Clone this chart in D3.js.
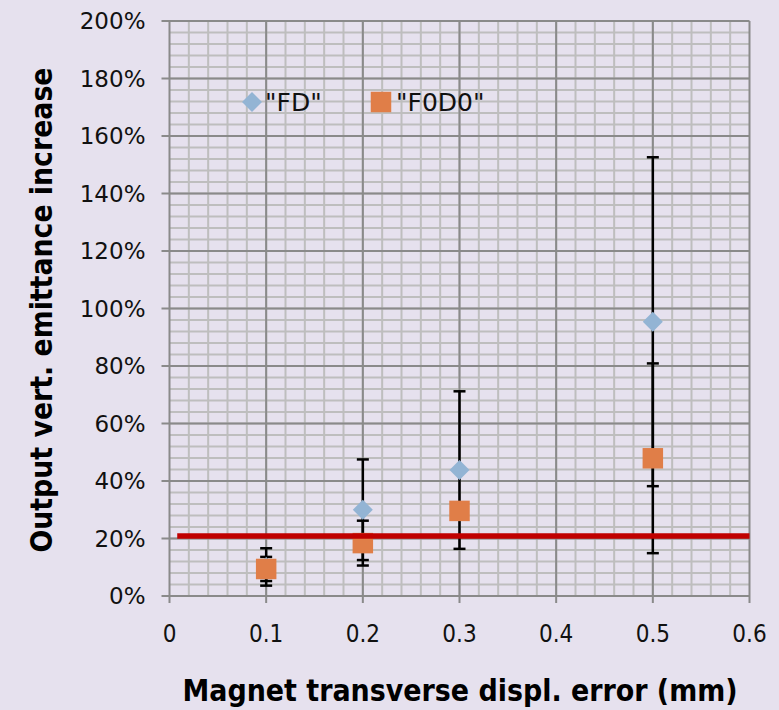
<!DOCTYPE html>
<html>
<head>
<meta charset="utf-8">
<script src="https://cdn.jsdelivr.net/npm/d3@7"></script>
<style>
    html, body { margin: 0; padding: 0; background: #e6e1ee; }
    svg { display: block; }
</style>
</head>
<body>
<script>
// Chart data.
var xValues = [0.1, 0.2, 0.3, 0.5];
var fdValues = [0.101, 0.300, 0.438, 0.954];
var fdErrors = [0.065, 0.175, 0.274, 0.572];
var fodoValues = [0.094, 0.184, 0.296, 0.479];
var fodoErrors = [0.042, 0.078, 0.030, 0.330];
var thresholdX = [0.008, 0.6];
var thresholdY = 0.209;
var xTicks = [0, 0.1, 0.2, 0.3, 0.4, 0.5, 0.6];
var yTicks = [0, 0.2, 0.4, 0.6, 0.8, 1.0, 1.2, 1.4, 1.6, 1.8, 2.0];
var seriesNames = ['"FD"', '"F0D0"'];

// Layout.
var width = 779, height = 710;
var margin = {left: 169.5, right: 29.5, top: 21, bottom: 114};
var colors = {
    back: "#e6e1ee",
    major: "#8a8a8a",
    minor: "#bebebe",
    fd: "#93b4d4",
    fodo: "#e07e48",
    red: "#c00000"
};

var x = d3.scaleLinear().domain([0, 0.6]).range([margin.left, width - margin.right]);
var y = d3.scaleLinear().domain([0, 2]).range([height - margin.bottom, margin.top]);

var svg = d3.select("body").append("svg")
        .attr("width", width)
        .attr("height", height)
        .style("background", colors.back);

// Minor grid.
var grid = svg.append("g");
grid.selectAll("line.mx")
        .data(d3.range(1, 30).map(function(i) { return i * 0.02; }))
        .enter().append("line")
        .attr("x1", function(d) { return x(d); })
        .attr("x2", function(d) { return x(d); })
        .attr("y1", y(0)).attr("y2", y(2))
        .style("stroke", colors.minor).style("stroke-width", 2);
grid.selectAll("line.my")
        .data(d3.range(1, 50).map(function(i) { return i * 0.04; }))
        .enter().append("line")
        .attr("y1", function(d) { return y(d); })
        .attr("y2", function(d) { return y(d); })
        .attr("x1", x(0)).attr("x2", x(0.6))
        .style("stroke", colors.minor).style("stroke-width", 2);

// Major grid, with the small outer ticks.
grid.selectAll("line.gx")
        .data(xTicks)
        .enter().append("line")
        .attr("x1", function(d) { return x(d); })
        .attr("x2", function(d) { return x(d); })
        .attr("y1", y(0) + 7).attr("y2", y(2))
        .style("stroke", colors.major).style("stroke-width", 2);
grid.selectAll("line.gy")
        .data(yTicks)
        .enter().append("line")
        .attr("y1", function(d) { return y(d); })
        .attr("y2", function(d) { return y(d); })
        .attr("x1", x(0) - 8).attr("x2", x(0.6))
        .style("stroke", colors.major).style("stroke-width", 2);

// Tick labels.
svg.selectAll("text.ty")
        .data(yTicks)
        .enter().append("text")
        .attr("x", x(0) - 24)
        .attr("y", function(d) { return y(d); })
        .attr("dy", "0.36em")
        .attr("text-anchor", "end")
        .style("font-family", "'DejaVu Sans', sans-serif")
        .style("font-size", "23px")
        .style("fill", "#111")
        .text(d3.format(".0%"));
svg.selectAll("text.tx")
        .data(xTicks)
        .enter().append("text")
        .attr("x", function(d) { return x(d); })
        .attr("y", y(0) + 46)
        .attr("text-anchor", "middle")
        .style("font-family", "'DejaVu Sans Condensed', 'DejaVu Sans', sans-serif")
        .style("font-stretch", "condensed")
        .style("font-size", "24px")
        .style("fill", "#111")
        .text(function(d) { return d === 0 ? "0" : d3.format(".1f")(d); });

// Error bars.
var drawErrors = function(values, errors) {
    var g = svg.append("g").style("stroke", "#000").style("stroke-width", 2.5);
    values.forEach(function(v, i) {
        var cx = x(xValues[i]);
        g.append("line")
                .attr("x1", cx).attr("x2", cx)
                .attr("y1", y(v - errors[i])).attr("y2", y(v + errors[i]));
        [v - errors[i], v + errors[i]].forEach(function(e) {
            g.append("line")
                    .attr("x1", cx - 6).attr("x2", cx + 6)
                    .attr("y1", y(e)).attr("y2", y(e));
        });
    });
};
drawErrors(fdValues, fdErrors);
drawErrors(fodoValues, fodoErrors);

// Markers.
var diamond = d3.symbol().type(d3.symbolSquare).size(200);
var square = d3.symbol().type(d3.symbolSquare).size(420);
svg.append("g").selectAll("path")
        .data(fdValues)
        .enter().append("path")
        .attr("d", diamond)
        .attr("transform", function(d, i) { return "translate(" + x(xValues[i]) + "," + y(d) + ") rotate(45)"; })
        .style("fill", colors.fd);
svg.append("g").selectAll("path")
        .data(fodoValues)
        .enter().append("path")
        .attr("d", square)
        .attr("transform", function(d, i) { return "translate(" + x(xValues[i]) + "," + y(d) + ")"; })
        .style("fill", colors.fodo);

// Threshold line.
svg.append("line")
        .attr("x1", x(thresholdX[0])).attr("x2", x(thresholdX[1]))
        .attr("y1", y(thresholdY)).attr("y2", y(thresholdY))
        .style("stroke", colors.red).style("stroke-width", 5.5);

// Legend.
var legend = svg.append("g").attr("transform", "translate(0,102)");
legend.append("path").attr("d", diamond)
        .attr("transform", "translate(252,0) rotate(45)")
        .style("fill", colors.fd);
legend.append("path").attr("d", square)
        .attr("transform", "translate(381,0)")
        .style("fill", colors.fodo);
legend.selectAll("text")
        .data(seriesNames)
        .enter().append("text")
        .attr("x", function(d, i) { return i === 0 ? 265 : 396; })
        .attr("dy", "0.36em")
        .style("font-family", "'DejaVu Sans', sans-serif")
        .style("font-size", "25px")
        .style("fill", "#111")
        .text(function(d) { return d; });

// Axis titles.
svg.append("text")
        .attr("x", 460).attr("y", 701)
        .attr("text-anchor", "middle")
        .attr("textLength", 555)
        .attr("lengthAdjust", "spacingAndGlyphs")
        .style("font-family", "'DejaVu Sans Condensed', 'DejaVu Sans', sans-serif")
        .style("font-weight", "bold")
        .style("font-size", "31px")
        .style("fill", "#000")
        .text("Magnet transverse displ. error (mm)");
svg.append("text")
        .attr("transform", "translate(52,310) rotate(-90)")
        .attr("text-anchor", "middle")
        .attr("textLength", 485)
        .attr("lengthAdjust", "spacingAndGlyphs")
        .style("font-family", "'DejaVu Sans Condensed', 'DejaVu Sans', sans-serif")
        .style("font-weight", "bold")
        .style("font-size", "31px")
        .style("fill", "#000")
        .text("Output vert. emittance increase");
</script>
</body>
</html>
